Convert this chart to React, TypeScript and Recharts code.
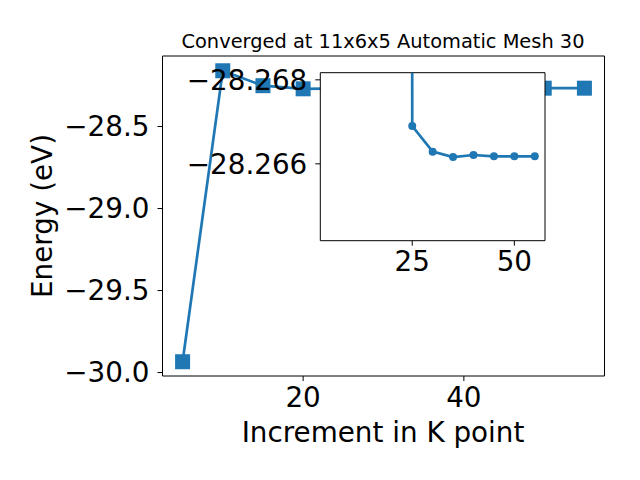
import { LineChart, Line, XAxis, YAxis, ReferenceArea } from 'recharts';

// main convergence series
const kPoints = [5, 10, 15, 20, 25, 30, 35, 40, 45, 50, 55];
const energies = [-29.934, -28.16, -28.251, -28.27, -28.2669, -28.2663, -28.2662, -28.2662, -28.2662, -28.2662, -28.2662];

// zoomed inset series (first point lies far off the inset window)
const insetK = [20, 25, 30, 35, 40, 45, 50, 55];
const insetEnergies = [-29.934, -28.2669, -28.26629, -28.26616, -28.26621, -28.26618, -28.26618, -28.26618];

const mainXTicks = [20, 40];
const mainYTicks = [-30, -29.5, -29, -28.5];
const insetXTicks = [25, 50];
const insetYTicks = [-28.268, -28.266];

const BLUE = '#1f77b4';
const FONT = 'DejaVu Sans';
const TICK = { fill: '#000', fontSize: 27.8, fontFamily: FONT };

const mainData = kPoints.map((k, i) => ({ k, e: energies[i] }));
const insetData = insetK.map((k, i) => ({ k, e: insetEnergies[i] }));

const minus = (s: string) => s.replace('-', '\u2212');

const Square = (props: any) => {
  const { cx, cy, index } = props;
  if (cx == null || cy == null) return <g key={index} />;
  return <rect key={index} x={cx - 7.5} y={cy - 7.5} width={15} height={15} fill={BLUE} />;
};

export default function App() {
  return (
    <div style={{ position: 'absolute', left: 0, top: 0, width: 640, height: 480, background: '#fff' }}>
      <div style={{ position: 'absolute', left: 0, top: 0 }}>
        <LineChart width={640} height={480} data={mainData} margin={{ top: 56, right: 35.5, bottom: 0, left: 0 }}>
          <XAxis
            dataKey="k"
            type="number"
            domain={[2.5, 57.5]}
            ticks={mainXTicks}
            height={104}
            axisLine={false}
            tickLine={{ stroke: '#000' }}
            tickSize={5}
            tickMargin={6}
            tick={TICK}
          />
          <YAxis
            type="number"
            domain={[-30.021, -28.07]}
            ticks={mainYTicks}
            width={162.5}
            axisLine={false}
            tickLine={{ stroke: '#000' }}
            tickSize={5}
            tickMargin={8}
            tick={TICK}
            tickFormatter={(v: number) => minus(v.toFixed(1))}
          />
          <ReferenceArea x1={2.5} x2={57.5} y1={-30.021} y2={-28.07} fill="none" stroke="#000" strokeWidth={1} />
          <Line dataKey="e" stroke={BLUE} strokeWidth={2.7} dot={Square} isAnimationActive={false} />
        </LineChart>
      </div>
      <div style={{ position: 'absolute', left: 0, top: 0 }}>
        <LineChart width={640} height={480} data={insetData} margin={{ top: 72.7, right: 95, bottom: 0, left: 0 }}>
          <XAxis
            dataKey="k"
            type="number"
            domain={[2.5, 57.5]}
            ticks={insetXTicks}
            height={239.3}
            axisLine={false}
            tickLine={{ stroke: '#000' }}
            tickSize={5}
            tickMargin={5.5}
            tick={TICK}
            allowDataOverflow
          />
          <YAxis
            type="number"
            domain={[-28.26817, -28.26417]}
            reversed
            allowDataOverflow
            ticks={insetYTicks}
            width={320.3}
            axisLine={false}
            tickLine={{ stroke: '#000' }}
            tickSize={5}
            tickMargin={8}
            tick={TICK}
            tickFormatter={(v: number) => minus(v.toFixed(3))}
          />
          <ReferenceArea x1={2.5} x2={57.5} y1={-28.26817} y2={-28.26417} fill="#fff" fillOpacity={1} stroke="#000" strokeWidth={1} />
          <Line dataKey="e" stroke={BLUE} strokeWidth={2.7} dot={{ r: 4, fill: BLUE, stroke: BLUE, strokeWidth: 0 }} isAnimationActive={false} />
        </LineChart>
      </div>
      <svg width={640} height={480} style={{ position: 'absolute', left: 0, top: 0, pointerEvents: 'none' }}>
        <text x={383} y={47.5} textAnchor="middle" fontSize={19.4} fontFamily={FONT} fill="#000">
          Converged at 11x6x5 Automatic Mesh 30
        </text>
        <text x={383} y={441.5} textAnchor="middle" fontSize={27.8} fontFamily={FONT} fill="#000">
          Increment in K point
        </text>
        <text
          x={52}
          y={216}
          textAnchor="middle"
          fontSize={27.8}
          fontFamily={FONT}
          fill="#000"
          transform="rotate(-90 52 216)"
        >
          Energy (eV)
        </text>
      </svg>
    </div>
  );
}
